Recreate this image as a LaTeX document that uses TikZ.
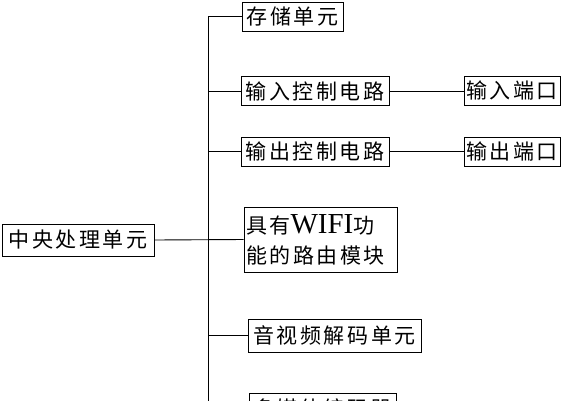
\documentclass[tikz,border=0pt]{standalone}
\usepackage{fontspec}
\setmainfont{Liberation Serif}
\newfontfamily\cjk[LetterSpace=12]{Noto Sans CJK SC}
\usetikzlibrary{positioning}

\begin{document}
\begin{tikzpicture}[x=1pt,y=-1pt,line width=.9pt,
    blk/.style={draw,inner sep=0pt,font=\cjk\fontsize{21}{30}\selectfont},
    wide/.style={blk,align=left,text width=#1}]
    \useasboundingbox (0,0) rectangle (562,400);
    \clip (0,0) rectangle (562,400);
    % left block and trunk
    \node[blk,minimum width=152,minimum height=32] (cpu) at (78,240) {中央处理单元};
    \coordinate (trunk) at (208,0);
    \coordinate (ttop) at (208,16);
    \coordinate (tbot) at (208,420);
    \draw (ttop) -- (tbot);
    % branches
    \node[blk,minimum width=101,minimum height=29] (store) at (292.5,16.5) {存储单元};
    \node[blk,minimum width=148,minimum height=29] (inctl) at (315,91) {输入控制电路};
    \node[blk,minimum width=96,minimum height=29] (inport) at (512,91) {输入端口};
    \node[blk,minimum width=148,minimum height=29] (outctl) at (315,151.5) {输出控制电路};
    \node[blk,minimum width=96,minimum height=29] (outport) at (512,151.5) {输出端口};
    \node[wide=149,minimum height=65,inner xsep=2pt] (wifi) at (320.5,239.5)
      {具有{\rmfamily\fontsize{29}{30}\selectfont WIFI}功\\能的路由模块};
    \node[blk,minimum width=173,minimum height=33] (av) at (334.5,335.5) {音视频解码单元};
    \node[blk,minimum width=147,minimum height=30] (media) at (322.5,408) {多媒体编码器};
    % connectors
    \draw (cpu.east) -- (wifi.west);
    \foreach \n in {store,inctl,outctl,av,media}
      \draw (\n.west) -- (\n.west -| trunk);
    \draw (inctl.east) -- (inport.west);
    \draw (outctl.east) -- (outport.west);
\end{tikzpicture}
\end{document}
